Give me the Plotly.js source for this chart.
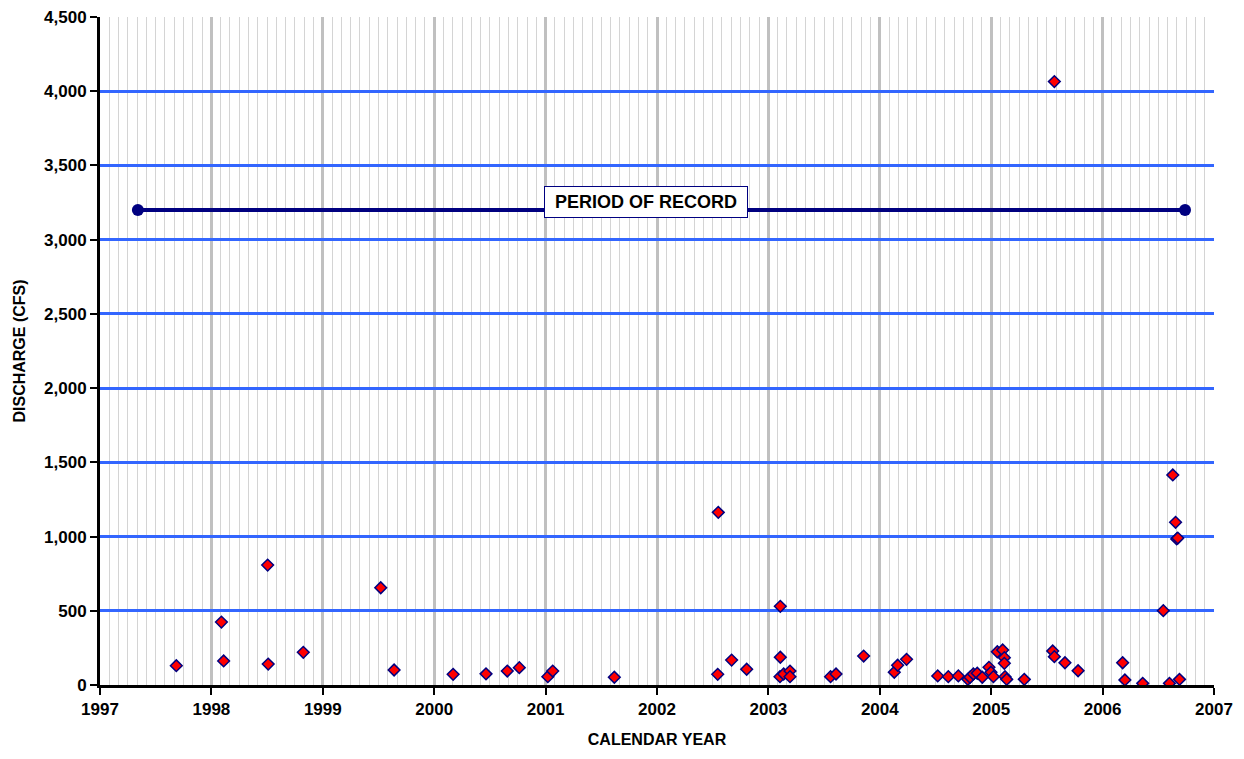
<!DOCTYPE html>
<html>
<head>
<meta charset="utf-8">
<script src="https://cdn.plot.ly/plotly-3.0.1.min.js"></script>
<style>html,body{margin:0;padding:0;background:#fff;}#chart{width:1244px;height:759px;}</style>
</head>
<body>
<div id="chart"></div>
<script>
// Measured discharge observations (decimal year, cfs)
var obsYear = [1997.685,1998.09,1998.11,1998.505,1998.51,1998.825,1999.52,1999.64,2000.17,2000.465,
  2000.656,2000.764,2001.02,2001.064,2001.617,2002.545,2002.55,2002.67,2002.805,2003.107,
  2003.107,2003.104,2003.137,2003.194,2003.194,2003.558,2003.607,2003.855,2004.13,2004.16,
  2004.24,2004.52,2004.615,2004.705,2004.79,2004.81,2004.84,2004.875,2004.92,2004.98,
  2004.998,2005.02,2005.055,2005.103,2005.118,2005.118,2005.124,2005.139,2005.297,2005.552,
  2005.567,2005.567,2005.662,2005.78,2006.18,2006.2,2006.36,2006.545,2006.6,2006.63,
  2006.655,2006.665,2006.675,2006.69];
var obsCfs = [130,424,162,808,141,220,655,101,72,75,
  94,117,56,94,52,72,1163,168,106,530,
  187,56,74,94,56,56,74,195,86,133,
  173,61,56,61,38,52,74,79,52,119,
  86,56,224,236,184,146,56,38,38,229,
  191,4065,150,96,150,34,11,501,11,1415,
  1096,984,990,38];
// Period of record bar
var porYear = [1997.34, 2006.74];
var porCfs = [3200, 3200];
var porLabel = "PERIOD OF RECORD";
var porLabelYear = 2001.9;
var porLabelCfs = 3255;

var traces = [
  {x: porYear, y: porCfs, type: 'scatter', mode: 'lines+markers',
   line: {color: '#000080', width: 4},
   marker: {symbol: 'circle', size: 12, color: '#000080'},
   hoverinfo: 'skip', showlegend: false},
  {x: obsYear, y: obsCfs, type: 'scatter', mode: 'markers',
   marker: {symbol: 'diamond', size: 9, color: '#ff0000', line: {color: '#000080', width: 1.5}},
   showlegend: false}
];

var fontFam = 'Liberation Sans, Arial, sans-serif';
var layout = {
  width: 1244, height: 759,
  margin: {l: 100, r: 30, t: 17, b: 74},
  paper_bgcolor: '#ffffff', plot_bgcolor: '#ffffff',
  showlegend: false,
  font: {family: fontFam, color: '#000000'},
  xaxis: {
    range: [1997, 2007], tick0: 1997, dtick: 1, tickformat: 'd',
    showgrid: true, gridcolor: '#c0c0c0', gridwidth: 3,
    minor: {tick0: 1997, dtick: 1/12, showgrid: true, gridcolor: '#d4d4d4', gridwidth: 1, ticklen: 0},
    showline: true, linecolor: '#000000', linewidth: 3,
    ticks: 'outside', ticklen: 7, tickwidth: 2, tickcolor: '#000000',
    tickfont: {family: fontFam, size: 17, color: '#000000', weight: 'bold'},
    zeroline: false, fixedrange: true, automargin: false,
    title: {text: '<b>CALENDAR YEAR</b>', font: {family: fontFam, size: 16, color: '#000000'}, standoff: 16}
  },
  yaxis: {
    range: [0, 4500], tick0: 0, dtick: 500, tickformat: ',d',
    showgrid: true, gridcolor: '#3366ff', gridwidth: 3,
    showline: true, linecolor: '#000000', linewidth: 3,
    ticks: 'outside', ticklen: 7, tickwidth: 2, tickcolor: '#000000',
    tickfont: {family: fontFam, size: 17, color: '#000000', weight: 'bold'},
    zeroline: false, fixedrange: true, automargin: false,
    title: {text: '<b>DISCHARGE (CFS)</b>', font: {family: fontFam, size: 16, color: '#000000'}, standoff: 15}
  },
  annotations: [{
    x: porLabelYear, y: porLabelCfs, xref: 'x', yref: 'y',
    text: '<b>&nbsp;' + porLabel + '&nbsp;</b>', showarrow: false,
    font: {family: fontFam, size: 18, color: '#000000'},
    bgcolor: '#ffffff', bordercolor: '#000080', borderwidth: 1, borderpad: 5,
    xanchor: 'center', yanchor: 'middle'
  }]
};

Plotly.newPlot('chart', traces, layout, {displayModeBar: false, staticPlot: true});
</script>
</body>
</html>
